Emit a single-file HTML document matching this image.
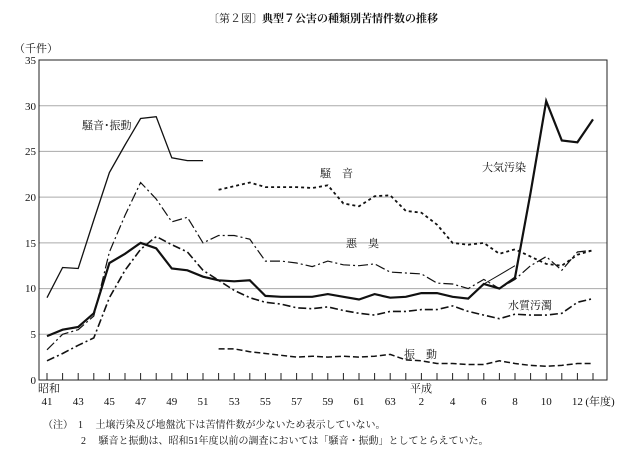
<!DOCTYPE html>
<html><head><meta charset="utf-8">
<style>
body{margin:0;background:#fff;}
svg text{font-family:"Liberation Serif","Noto Serif CJK SC","Noto Sans CJK JP",serif;fill:#111;}
</style></head><body>
<svg id="s" width="629" height="461" viewBox="0 0 629 461" xmlns="http://www.w3.org/2000/svg">
<text x="208" y="22" font-size="11">〔第２図〕</text>
<text x="262" y="22" font-size="11" font-weight="bold" font-family="Liberation Sans,Noto Sans CJK JP,sans-serif">典型７公害の種類別苦情件数の推移</text>
<text x="14" y="52" font-size="11">（千件）</text>
<g stroke="#aaa" stroke-width="1">
<line x1="39" y1="334.3" x2="607" y2="334.3"/>
<line x1="39" y1="288.6" x2="607" y2="288.6"/>
<line x1="39" y1="242.9" x2="607" y2="242.9"/>
<line x1="39" y1="197.1" x2="607" y2="197.1"/>
<line x1="39" y1="151.4" x2="607" y2="151.4"/>
<line x1="39" y1="105.7" x2="607" y2="105.7"/>
</g>
<rect x="39" y="60" width="568" height="320" fill="none" stroke="#222" stroke-width="1"/>
<g font-size="11" text-anchor="end">
<text x="36" y="384">0</text><text x="36" y="338">5</text><text x="36" y="292">10</text><text x="36" y="247">15</text><text x="36" y="201">20</text><text x="36" y="155">25</text><text x="36" y="110">30</text><text x="36" y="64">35</text>
</g>
<g id="ticks" stroke="#222" stroke-width="1"></g>
<g id="xl" font-size="11" text-anchor="middle"></g>
<text x="38" y="392" font-size="11">昭和</text>
<text x="410" y="392" font-size="11">平成</text>
<g id="lines" fill="none" stroke="#111"></g>
<g font-size="11">
<text x="82" y="129">騒音･振動</text>
<text x="320" y="177">騒　音</text>
<text x="346" y="247">悪　臭</text>
<text x="482" y="171">大気汚染</text>
<text x="508" y="309">水質汚濁</text>
<text x="404" y="358">振　動</text>
</g>
<g font-size="10">
<text x="43" y="428">（注）　1　 土壌汚染及び地盤沈下は苦情件数が少ないため表示していない。</text>
<text x="81" y="444">2　 騒音と振動は、昭和51年度以前の調査においては「騒音・振動」としてとらえていた。</text>
</g>
</svg>
<script>
var X=function(i){return 47+15.6*i},Y=function(v){return 380-v*9.143};
var ns="http://www.w3.org/2000/svg";
var t=document.getElementById('ticks');
for(var i=0;i<=35;i++){var l=document.createElementNS(ns,'line');l.setAttribute('x1',X(i));l.setAttribute('x2',X(i));l.setAttribute('y1',380);l.setAttribute('y2',373);t.appendChild(l);}
var xl=document.getElementById('xl');
var labs=[[0,'41'],[2,'43'],[4,'45'],[6,'47'],[8,'49'],[10,'51'],[12,'53'],[14,'55'],[16,'57'],[18,'59'],[20,'61'],[22,'63'],[24,'2'],[26,'4'],[28,'6'],[30,'8'],[32,'10'],[34,'12']];
labs.forEach(function(a){var e=document.createElementNS(ns,'text');e.setAttribute('x',X(a[0]));e.setAttribute('y',405);e.textContent=a[1];xl.appendChild(e);});
var e=document.createElementNS(ns,'text');e.setAttribute('x',X(34)+8);e.setAttribute('y',405);e.setAttribute('text-anchor','start');e.textContent='(年度)';xl.appendChild(e);
function line(start,vals,w,dash){var p=vals.map(function(v,k){return X(start+k).toFixed(1)+','+Y(v).toFixed(1)}).join(' ');
var pl=document.createElementNS(ns,'polyline');pl.setAttribute('points',p);pl.setAttribute('stroke-width',w);if(dash)pl.setAttribute('stroke-dasharray',dash);document.getElementById('lines').appendChild(pl);}
line(0,[9,12.3,12.2,17.5,22.7,25.7,28.6,28.8,24.3,24,24],1.3);
line(0,[4.8,5.5,5.8,7.3,12.8,13.8,15.0,14.4,12.2,12.0,11.3,10.9,10.8,10.9,9.2,9.1,9.1,9.1,9.4,9.1,8.8,9.4,9.0,9.1,9.5,9.5,9.1,8.9,10.5,10.0,11.2,20.5,30.5,26.2,26,28.5],2.2);
line(28,[10.5,11.5,12.5],1);
line(11,[20.8,21.2,21.6,21.1,21.1,21.1,21.0,21.3,19.3,19.0,20.1,20.2,18.5,18.3,17,15.0,14.8,15.0,13.8,14.3,13.5,12.7,12.5,13.7,14.2],1.8,'3,3');
line(0,[3.3,5,5.5,7,14,18,21.6,19.8,17.3,17.8,15.0,15.8,15.8,15.4,13,13,12.8,12.4,13,12.6,12.5,12.7,11.8,11.7,11.6,10.6,10.5,10.0,11,10.0,11,12.5,13.5,12,14,14.2],1.2,'10,3,2,3');
line(0,[2.1,2.9,3.8,4.6,9,12,14.3,15.7,14.8,14,12,10.9,9.8,9,8.5,8.3,7.9,7.8,8.0,7.6,7.3,7.1,7.5,7.5,7.7,7.7,8.1,7.5,7.1,6.7,7.2,7.1,7.1,7.3,8.5,8.9],1.6,'8,3,2,3');
line(11,[3.4,3.4,3.1,2.9,2.7,2.5,2.6,2.5,2.6,2.5,2.6,2.8,2.2,2.1,1.8,1.8,1.7,1.7,2.1,1.8,1.6,1.5,1.6,1.8,1.8],1.5,'6,3');
</script>
</body></html>
